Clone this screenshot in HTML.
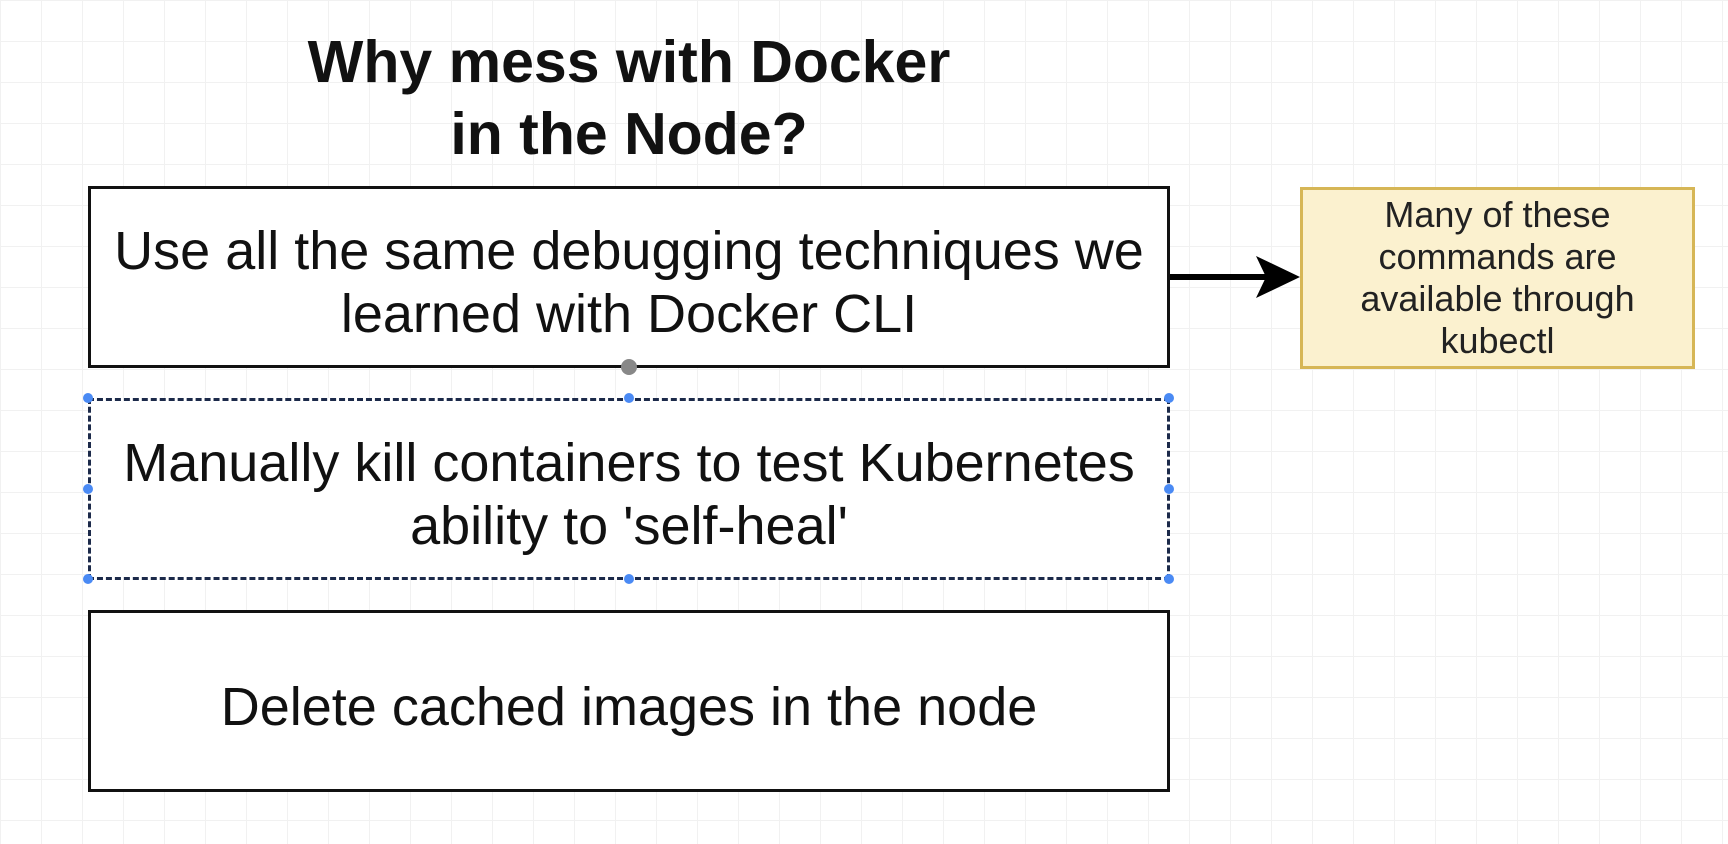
<!DOCTYPE html>
<html><head><meta charset="utf-8"><style>
html,body{margin:0;padding:0}
body{width:1728px;height:844px;position:relative;overflow:hidden;background:#fff;
background-image:linear-gradient(#f1f1f1 1px,transparent 1px),linear-gradient(90deg,#f1f1f1 1px,transparent 1px);background-size:41px 41px;font-family:"Liberation Sans",sans-serif;color:#111}
.t{position:absolute;left:88px;width:1082px;top:26px;text-align:center;font-weight:bold;font-size:59px;line-height:72px}
.b{position:absolute;left:88px;width:1076px;height:176px;border:3.5px solid #111;background:#fff;display:flex;align-items:center;justify-content:center;text-align:center;font-size:54px;line-height:63px;box-sizing:content-box;padding-top:0}
.b span{position:relative;top:6px}
.y{position:absolute;left:1300px;top:187px;width:389px;height:176px;border:3px solid #d6b656;background:#fbf1cf;display:flex;align-items:center;justify-content:center;text-align:center;font-size:36px;line-height:42px;color:#222}
.h{position:absolute;width:10px;height:10px;border-radius:50%;background:#4a8af4}
</style></head><body>
<div class="t">Why mess with Docker<br>in the Node?</div>
<div class="b" style="top:186px"><span>Use all the same debugging techniques we<br>learned with Docker CLI</span></div>
<div class="b" style="top:398px;border:3px dashed #1c2a4a"><span>Manually kill containers to test Kubernetes<br>ability to 'self-heal'</span></div>
<div class="b" style="top:610px"><span>Delete cached images in the node</span></div>
<div class="y">Many of these<br>commands are<br>available through<br>kubectl</div>
<svg style="position:absolute;left:0;top:0" width="1728" height="844">
<line x1="1170" y1="277" x2="1280" y2="277" stroke="#000" stroke-width="6"/>
<polygon points="1300,277 1256,256 1266,277 1256,298" fill="#000"/>
<circle cx="629" cy="367" r="8" fill="#888"/>
</svg>
<div class="h" style="left:83px;top:393px"></div><div class="h" style="left:624px;top:393px"></div><div class="h" style="left:1164px;top:393px"></div>
<div class="h" style="left:83px;top:484px"></div><div class="h" style="left:1164px;top:484px"></div>
<div class="h" style="left:83px;top:574px"></div><div class="h" style="left:624px;top:574px"></div><div class="h" style="left:1164px;top:574px"></div>
</body></html>
